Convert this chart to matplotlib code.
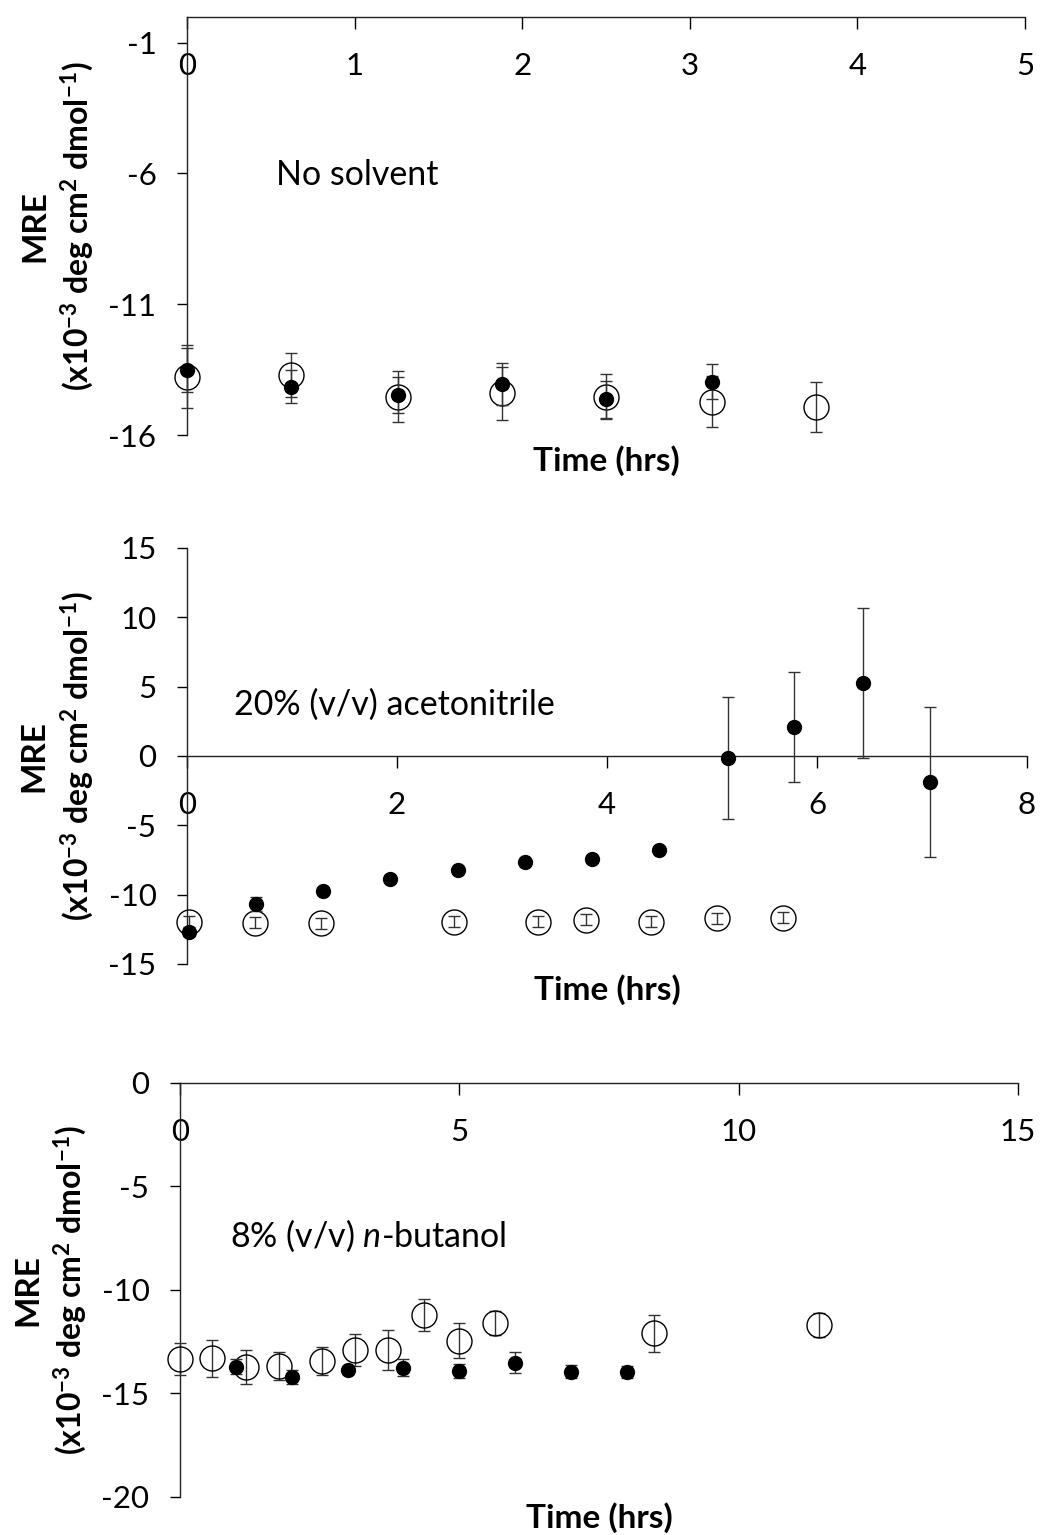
import matplotlib
matplotlib.use('Agg')
import matplotlib.pyplot as plt

plt.rcParams['font.family'] = ['Lato', 'DejaVu Sans']
plt.rcParams['axes.unicode_minus'] = False
plt.rcParams['mathtext.fontset'] = 'custom'
plt.rcParams['mathtext.it'] = 'Lato:italic'
plt.rcParams['mathtext.default'] = 'regular'

# ---- panel 1: no solvent ----
t1_open = [0, 0.62, 1.26, 1.88, 2.50, 3.13, 3.75]
mre1_open = [-13.77, -13.71, -14.53, -14.41, -14.53, -14.73, -14.92]
err1_open = [1.20, 0.83, 0.96, 1.02, 0.85, 0.98, 0.96]
t1_fill = [0, 0.62, 1.26, 1.88, 2.50, 3.13]
mre1_fill = [-13.51, -14.15, -14.47, -14.05, -14.64, -13.96]
err1_fill = [0.83, 0.64, 0.70, 0.79, 0.70, 0.68]

# ---- panel 2: 20% acetonitrile ----
t2_open = [0.02, 0.65, 1.28, 2.54, 3.34, 3.80, 4.42, 5.05, 5.68]
mre2_open = [-11.95, -12.02, -12.06, -11.95, -11.95, -11.82, -11.95, -11.70, -11.66]
err2_open = [0.4, 0.4, 0.4, 0.4, 0.4, 0.4, 0.4, 0.4, 0.4]
t2_fill = [0.02, 0.655, 1.30, 1.93, 2.58, 3.22, 3.86, 4.50, 5.15, 5.78, 6.44, 7.08]
mre2_fill = [-12.67, -10.70, -9.73, -8.89, -8.22, -7.62, -7.45, -6.78, -0.14, 2.10, 5.24, -1.87]
err2_fill = [0.3, 0.5, 0.2, 0.2, 0.2, 0.2, 0.2, 0.2, 4.4, 3.95, 5.4, 5.4]

# ---- panel 3: 8% n-butanol ----
t3_open = [0, 0.58, 1.18, 1.78, 2.54, 3.14, 3.72, 4.36, 5.0, 5.63, 8.48, 11.43]
mre3_open = [-13.32, -13.30, -13.71, -13.67, -13.43, -12.90, -12.90, -11.20, -12.46, -11.60, -12.09, -11.68]
err3_open = [0.78, 0.90, 0.82, 0.69, 0.69, 0.77, 0.95, 0.78, 0.85, 0.57, 0.90, 0.57]
t3_fill = [1, 2, 3, 4, 5, 6, 7, 8]
mre3_fill = [-13.71, -14.21, -13.87, -13.76, -13.92, -13.51, -13.95, -13.97]
err3_fill = [0.35, 0.35, 0.20, 0.42, 0.35, 0.49, 0.30, 0.30]

panels = [
    dict(rect=[0.1798, 0.7166, 0.8058, 0.2726], xlim=(0, 5), ylim=(-16, 0),
         xticks=[0, 1, 2, 3, 4, 5], yticks=[-16, -11, -6, -1],
         data=(t1_open, mre1_open, err1_open, t1_fill, mre1_fill, err1_fill),
         label='No solvent', lpos=(0.53, -6.05), tpos=-0.062),
    dict(rect=[0.1798, 0.3720, 0.8077, 0.2710], xlim=(0, 8), ylim=(-15, 15),
         xticks=[0, 2, 4, 6, 8], yticks=[-15, -10, -5, 0, 5, 10, 15],
         data=(t2_open, mre2_open, err2_open, t2_fill, mre2_fill, err2_fill),
         label='20% (v/v) acetonitrile', lpos=(0.45, 3.68), tpos=-0.062),
    dict(rect=[0.1731, 0.0248, 0.8058, 0.2697], xlim=(0, 15), ylim=(-20, 0),
         xticks=[0, 5, 10, 15], yticks=[-20, -15, -10, -5, 0],
         data=(t3_open, mre3_open, err3_open, t3_fill, mre3_fill, err3_fill),
         label='8% (v/v) $\\mathit{n}$-butanol', lpos=(0.9, -7.38), tpos=-0.05),
]

fig = plt.figure(figsize=(10.4, 15.35), dpi=100)

for p in panels:
    ax = fig.add_axes(p['rect'])
    to, mo, eo, tf, mf, ef = p['data']
    ax.errorbar(to, mo, yerr=eo, fmt='o', ms=18, mfc='none', mec='black', mew=1.0,
                ecolor='#333333', elinewidth=1.0, capsize=4, capthick=1.0, clip_on=False, zorder=3)
    ax.errorbar(tf, mf, yerr=ef, fmt='o', ms=10, mfc='black', mec='black',
                ecolor='#333333', elinewidth=1.0, capsize=4, capthick=1.0, clip_on=False, zorder=4)
    ax.set_xlim(*p['xlim'])
    ax.set_ylim(*p['ylim'])
    ax.set_xticks(p['xticks'])
    ax.set_yticks(p['yticks'])
    ax.spines['top'].set_visible(False)
    ax.spines['right'].set_visible(False)
    ax.spines['bottom'].set_position(('data', 0))
    for s in ['left', 'bottom']:
        ax.spines[s].set_linewidth(1.0)
        ax.spines[s].set_color('#222222')
    ax.tick_params(axis='x', direction='out', length=8.5, width=1.0, pad=17, labelsize=22.5)
    ax.tick_params(axis='y', direction='out', length=7, width=1.0, pad=15, labelsize=22.5)
    ax.patch.set_visible(False)
    ax.text(p['lpos'][0], p['lpos'][1], p['label'], fontsize=24.5, ha='left', va='center')
    ax.text(0.5, p['tpos'], 'Time (hrs)', transform=ax.transAxes, fontsize=24,
            fontweight='bold', ha='center', va='center')
    ax.text(-0.182, 0.5, 'MRE', transform=ax.transAxes, fontsize=24, fontweight='bold',
            rotation=90, ha='center', va='center')
    ax.text(-0.131, 0.5, '(x10$^{-3}$ deg cm$^{2}$ dmol$^{-1}$)', transform=ax.transAxes,
            fontsize=23, fontweight='bold', rotation=90, ha='center', va='center')

fig.savefig('out.png', dpi=100)
